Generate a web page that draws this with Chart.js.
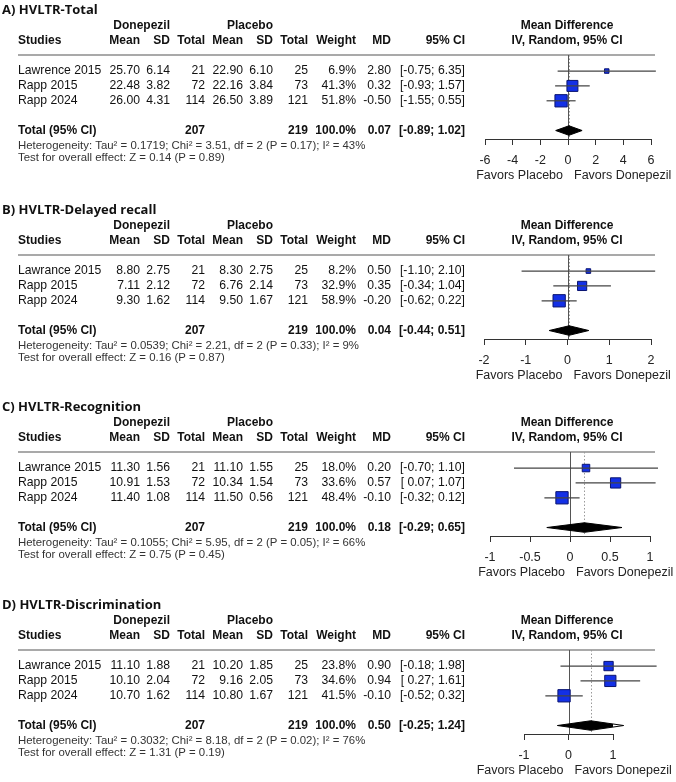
<!DOCTYPE html>
<html>
<head>
<meta charset="utf-8">
<script src="https://cdn.jsdelivr.net/npm/chart.js@4.4.1/dist/chart.umd.min.js"></script>
<style>
  html, body { margin: 0; padding: 0; background: #fff; overflow: hidden; width: 676px; height: 782px; }
  .panel { position: absolute; left: 0; width: 676px; height: 200px; }
</style>
</head>
<body>
<div class="panel" style="top:0px"><canvas id="chartA" width="676" height="200"></canvas></div>
<div class="panel" style="top:200px"><canvas id="chartB" width="676" height="200"></canvas></div>
<div class="panel" style="top:397px"><canvas id="chartC" width="676" height="200"></canvas></div>
<div class="panel" style="top:595px"><canvas id="chartD" width="676" height="200"></canvas></div>
<script>
// study labels (the original spells the first one two ways)
const studiesA = ["Lawrence 2015", "Rapp 2015", "Rapp 2024"];
const studiesBCD = ["Lawrance 2015", "Rapp 2015", "Rapp 2024"];
const donN = [21, 72, 114];
const plaN = [25, 73, 121];
const donTotal = 207;
const plaTotal = 219;

// A) HVLTR-Total
const totDonMean = [25.70, 22.48, 26.00];
const totDonSD = [6.14, 3.82, 4.31];
const totPlaMean = [22.90, 22.16, 26.50];
const totPlaSD = [6.10, 3.84, 3.89];
const totWeight = [6.9, 41.3, 51.8];
const totMD = [2.80, 0.32, -0.50];
const totLo = [-0.75, -0.93, -1.55];
const totHi = [6.35, 1.57, 0.55];
const totPooled = [0.07, -0.89, 1.02];
const totHet = ["0.1719", "3.51", "0.17", "43"];
const totTest = ["0.14", "0.89"];
const totTicks = [-6, 6, 2];

// B) HVLTR-Delayed recall
const delDonMean = [8.80, 7.11, 9.30];
const delDonSD = [2.75, 2.12, 1.62];
const delPlaMean = [8.30, 6.76, 9.50];
const delPlaSD = [2.75, 2.14, 1.67];
const delWeight = [8.2, 32.9, 58.9];
const delMD = [0.50, 0.35, -0.20];
const delLo = [-1.10, -0.34, -0.62];
const delHi = [2.10, 1.04, 0.22];
const delPooled = [0.04, -0.44, 0.51];
const delHet = ["0.0539", "2.21", "0.33", "9"];
const delTest = ["0.16", "0.87"];
const delTicks = [-2, 2, 1];

// C) HVLTR-Recognition
const recDonMean = [11.30, 10.91, 11.40];
const recDonSD = [1.56, 1.53, 1.08];
const recPlaMean = [11.10, 10.34, 11.50];
const recPlaSD = [1.55, 1.54, 0.56];
const recWeight = [18.0, 33.6, 48.4];
const recMD = [0.20, 0.57, -0.10];
const recLo = [-0.70, 0.07, -0.32];
const recHi = [1.10, 1.07, 0.12];
const recPooled = [0.18, -0.29, 0.65];
const recHet = ["0.1055", "5.95", "0.05", "66"];
const recTest = ["0.75", "0.45"];
const recTicks = [-1, 1, 0.5];

// D) HVLTR-Discrimination
const disDonMean = [11.10, 10.10, 10.70];
const disDonSD = [1.88, 2.04, 1.62];
const disPlaMean = [10.20, 9.16, 10.80];
const disPlaSD = [1.85, 2.05, 1.67];
const disWeight = [23.8, 34.6, 41.5];
const disMD = [0.90, 0.94, -0.10];
const disLo = [-0.18, 0.27, -0.52];
const disHi = [1.98, 1.61, 0.32];
const disPooled = [0.50, -0.25, 1.24];
const disHet = ["0.3032", "8.18", "0.02", "76"];
const disTest = ["1.31", "0.19"];
const disTicks = [-1, 1, 1];

const panels = [
  {id: "chartA", title: "A) HVLTR-Total", studies: studiesA, dm: totDonMean, ds: totDonSD, pm: totPlaMean, ps: totPlaSD,
   w: totWeight, md: totMD, lo: totLo, hi: totHi, pooled: totPooled, het: totHet, test: totTest, ticks: totTicks, px: [485, 651]},
  {id: "chartB", title: "B) HVLTR-Delayed recall", studies: studiesBCD, dm: delDonMean, ds: delDonSD, pm: delPlaMean, ps: delPlaSD,
   w: delWeight, md: delMD, lo: delLo, hi: delHi, pooled: delPooled, het: delHet, test: delTest, ticks: delTicks, px: [484, 651]},
  {id: "chartC", title: "C) HVLTR-Recognition", studies: studiesBCD, dm: recDonMean, ds: recDonSD, pm: recPlaMean, ps: recPlaSD,
   w: recWeight, md: recMD, lo: recLo, hi: recHi, pooled: recPooled, het: recHet, test: recTest, ticks: recTicks, px: [490, 650]},
  {id: "chartD", title: "D) HVLTR-Discrimination", studies: studiesBCD, dm: disDonMean, ds: disDonSD, pm: disPlaMean, ps: disPlaSD,
   w: disWeight, md: disMD, lo: disLo, hi: disHi, pooled: disPooled, het: disHet, test: disTest, ticks: disTicks, px: [524, 613]}
];

const SANS = '"Liberation Sans", Arial, sans-serif';
const f2 = v => v.toFixed(2);
const ci = (lo, hi) => "[" + (lo < 0 ? "" : " ") + f2(lo) + "; " + f2(hi) + "]";
const TOTAL_ROW = 5;

// column right edges
const COLS = {mean1: 140, sd1: 170, n1: 205, mean2: 243, sd2: 273, n2: 308, w: 356, md: 391, ci: 465};

function tablePlugin(p) {
  return {
    id: "forestTable",
    beforeDatasetsDraw(chart) {
      const {ctx, chartArea: a, scales: {x}} = chart;
      ctx.save();
      ctx.strokeStyle = "#8c8c8c";
      ctx.lineWidth = 1.5;
      ctx.beginPath(); ctx.moveTo(18, a.top); ctx.lineTo(655, a.top); ctx.stroke();

      const x0 = Math.round(x.getPixelForValue(0)) + 0.5;
      ctx.strokeStyle = "#555";
      ctx.lineWidth = 1;
      ctx.beginPath(); ctx.moveTo(x0, a.top); ctx.lineTo(x0, a.bottom); ctx.stroke();

      const xp = Math.round(x.getPixelForValue(p.pooled[0])) + 0.5;
      ctx.strokeStyle = "#9a9a9a";
      ctx.setLineDash([1.5, 2]);
      ctx.beginPath(); ctx.moveTo(xp, a.top); ctx.lineTo(xp, a.bottom); ctx.stroke();
      ctx.restore();
    },
    afterDraw(chart) {
      const {ctx, scales: {x, y}} = chart;
      ctx.save();
      ctx.textBaseline = "middle";
      ctx.fillStyle = "#111";

      ctx.font = 'bold 13px "Open Sans", sans-serif';
      ctx.textAlign = "left";
      ctx.fillText(p.title, 2, 10);

      ctx.font = "bold 12px " + SANS;
      ctx.textAlign = "right";
      ctx.fillText("Donepezil", COLS.sd1, 26);
      ctx.fillText("Placebo", COLS.sd2, 26);
      ctx.textAlign = "left";
      ctx.fillText("Studies", 18, 41);
      ctx.textAlign = "right";
      [["Mean", COLS.mean1], ["SD", COLS.sd1], ["Total", COLS.n1], ["Mean", COLS.mean2], ["SD", COLS.sd2],
       ["Total", COLS.n2], ["Weight", COLS.w], ["MD", COLS.md], ["95% CI", COLS.ci]].forEach(([t, cx]) => ctx.fillText(t, cx, 41));
      const xc = x.getPixelForValue(0);
      ctx.textAlign = "center";
      ctx.fillText("Mean Difference", 567, 26);
      ctx.fillText("IV, Random, 95% CI", 567, 41);

      ctx.font = "12.2px " + SANS;
      p.studies.forEach((s, i) => {
        const ry = y.getPixelForValue(i + 1);
        ctx.textAlign = "left";
        ctx.fillText(s, 18, ry);
        ctx.textAlign = "right";
        ctx.fillText(f2(p.dm[i]), COLS.mean1, ry);
        ctx.fillText(f2(p.ds[i]), COLS.sd1, ry);
        ctx.fillText(String(donN[i]), COLS.n1, ry);
        ctx.fillText(f2(p.pm[i]), COLS.mean2, ry);
        ctx.fillText(f2(p.ps[i]), COLS.sd2, ry);
        ctx.fillText(String(plaN[i]), COLS.n2, ry);
        ctx.fillText(p.w[i].toFixed(1) + "%", COLS.w, ry);
        ctx.fillText(f2(p.md[i]), COLS.md, ry);
        ctx.fillText(ci(p.lo[i], p.hi[i]), COLS.ci, ry);
      });

      const ty = y.getPixelForValue(TOTAL_ROW);
      ctx.font = "bold 12px " + SANS;
      ctx.textAlign = "left";
      ctx.fillText("Total (95% CI)", 18, ty);
      ctx.textAlign = "right";
      ctx.fillText(String(donTotal), COLS.n1, ty);
      ctx.fillText(String(plaTotal), COLS.n2, ty);
      ctx.fillText("100.0%", COLS.w, ty);
      ctx.fillText(f2(p.pooled[0]), COLS.md, ty);
      ctx.fillText(ci(p.pooled[1], p.pooled[2]), COLS.ci, ty);

      ctx.font = "11.4px " + SANS;
      ctx.fillStyle = "#333";
      ctx.textAlign = "left";
      ctx.fillText("Heterogeneity: Tau\u00b2 = " + p.het[0] + "; Chi\u00b2 = " + p.het[1] + ", df = 2 (P = " + p.het[2] +
        "); I\u00b2 = " + p.het[3] + "%", 18, 146);
      ctx.fillText("Test for overall effect: Z = " + p.test[0] + " (P = " + p.test[1] + ")", 18, 158);

      ctx.font = "12.5px " + SANS;
      ctx.fillStyle = "#222";
      ctx.textAlign = "right";
      ctx.fillText("Favors Placebo", xc - 5, 176);
      ctx.textAlign = "left";
      ctx.fillText("Favors Donepezil", xc + 6, 176);
      ctx.restore();
    }
  };
}

function buildChart(p) {
  const wMax = Math.max(...p.w);
  const datasets = [];
  p.studies.forEach((s, i) => {
    datasets.push({
      type: "line", data: [{x: p.lo[i], y: i + 1}, {x: p.hi[i], y: i + 1}],
      borderColor: "#444", borderWidth: 1.2, pointRadius: 0, clip: false
    });
  });
  datasets.push({
    type: "scatter", data: p.md.map((v, i) => ({x: v, y: i + 1})),
    pointStyle: "rect",
    pointRadius: p.w.map(v => 12.3 * Math.sqrt(v / wMax) / Math.SQRT2),
    backgroundColor: "#1330e6", borderColor: "#0a1470", borderWidth: 1, clip: false
  });
  const h = 0.32;
  datasets.push({
    type: "line",
    data: [{x: p.pooled[1], y: TOTAL_ROW}, {x: p.pooled[0], y: TOTAL_ROW - h}, {x: p.pooled[2], y: TOTAL_ROW},
           {x: p.pooled[0], y: TOTAL_ROW + h}, {x: p.pooled[1], y: TOTAL_ROW}],
    borderColor: "#000", backgroundColor: "#000", borderWidth: 1, pointRadius: 0, fill: "shape", tension: 0, clip: false
  });

  new Chart(document.getElementById(p.id), {
    type: "scatter",
    data: {datasets},
    options: {
      responsive: false,
      animation: false,
      events: [],
      layout: {padding: {left: p.px[0], right: 676 - p.px[1], top: 55, bottom: 200 - 139 - 40}},
      plugins: {legend: {display: false}, tooltip: {enabled: false}},
      scales: {
        x: {
          type: "linear", min: p.ticks[0], max: p.ticks[1],
          afterFit: s => { s.height = 40; },
          border: {display: true, color: "#333", width: 1},
          grid: {drawOnChartArea: false, drawTicks: true, tickLength: 6, color: "#333"},
          ticks: {stepSize: p.ticks[2], padding: 8, color: "#222", font: {family: SANS, size: 12.5},
                  callback: v => String(v)}
        },
        y: {type: "linear", reverse: true, min: -0.08, max: 5.57, display: false}
      }
    },
    plugins: [tablePlugin(p)]
  });
}

panels.forEach(buildChart);
</script>
</body>
</html>
